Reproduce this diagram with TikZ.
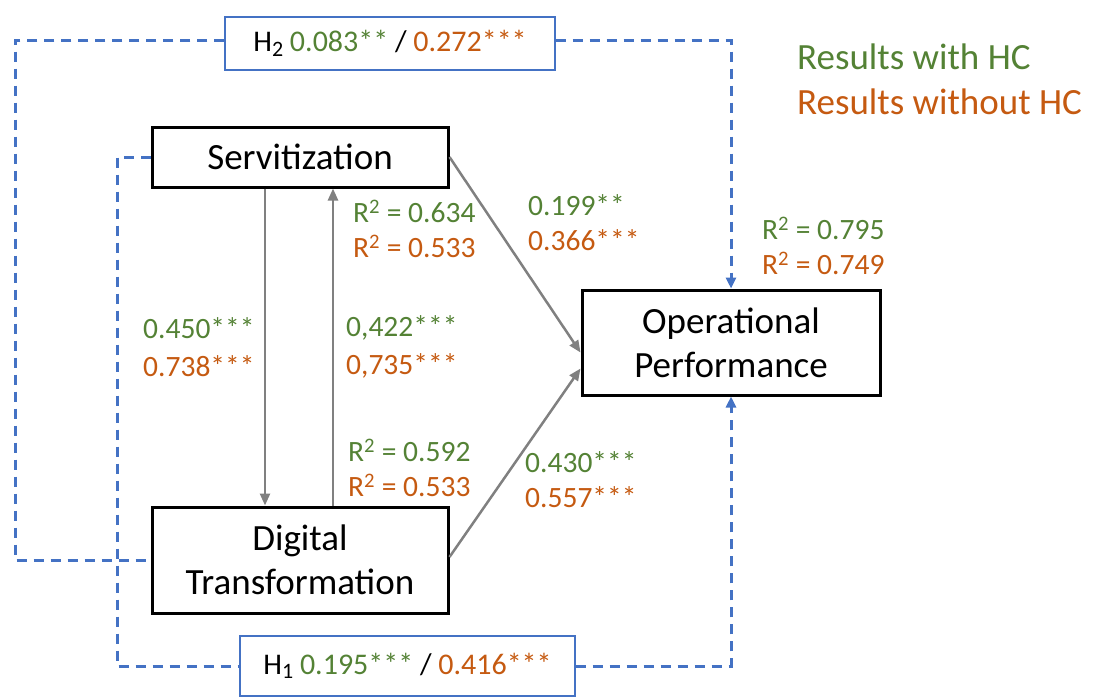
\documentclass[tikz,border=0pt]{standalone}
\usepackage{fontspec}
\setmainfont{Carlito}
\usetikzlibrary{arrows.meta}
\definecolor{hcgreen}{HTML}{548235}
\definecolor{hcorange}{HTML}{C55A11}
\definecolor{hcblue}{HTML}{4472C4}
\definecolor{pathgray}{HTML}{808080}
\newcommand{\grn}[1]{\textcolor{hcgreen}{#1}}
\newcommand{\org}[1]{\textcolor{hcorange}{#1}}
\newcommand{\Rsq}{R\textsuperscript{2}}
\newcommand{\hsub}[1]{\raisebox{-0.32ex}{\fontsize{22}{22}\selectfont #1}}
\tikzset{
  construct/.style={draw=black, line width=3pt, inner sep=0pt, align=center,
    font=\fontsize{37}{44}\selectfont},
  hypbox/.style={draw=hcblue, line width=1.4pt, inner sep=0pt,
    font=\fontsize{30}{36}\selectfont},
  hyppath/.style={draw=hcblue, line width=3pt, dash pattern=on 10pt off 7pt},
  hyparrow/.style={hyppath, -{Triangle[length=11pt,width=10pt]}},
  pathline/.style={draw=pathgray, line width=2.5pt, -{Triangle[length=12pt,width=10pt]}},
  coef/.style={anchor=west, inner sep=0pt, align=left,
    font=\fontsize{29.5}{35}\selectfont},
  coefwide/.style={coef, font=\fontsize{29.5}{38}\selectfont},
  legend/.style={anchor=west, inner sep=0pt, font=\fontsize{37}{44}\selectfont},
}
\begin{document}
\begin{tikzpicture}[x=1pt, y=-1pt]
\useasboundingbox (0,0) rectangle (1099,697);

% constructs
\node[construct, minimum width=296pt, minimum height=60pt] (S) at (300,157) {Servitization};
\node[construct, minimum width=296pt, minimum height=106pt] (DT) at (300,560) {Digital\\Transformation};
\node[construct, minimum width=298pt, minimum height=105pt] (OP) at (731,342.5) {Operational\\Performance};

% hypothesis boxes
\node[hypbox, minimum width=330pt, minimum height=53pt] (H2) at (390,43.5)
  {H\hsub{2} \grn{0.083**} / \org{0.272***}};
\node[hypbox, minimum width=335pt, minimum height=60pt] (H1) at (407.5,666)
  {H\hsub{1} \grn{0.195***} / \org{0.416***}};

% indirect (hypothesised) paths
\coordinate (outerL) at (15,40);
\coordinate (innerL) at (117,157);
\draw[hyppath] ([yshift=3.5pt]H2.west) -- (outerL) |- (DT.west);
\draw[hyparrow] ([yshift=3.5pt]H2.east) -| (OP.north);
\draw[hyppath] (S.west) -- (innerL) |- (H1.west);
\draw[hyparrow] (H1.east) -| (OP.south);

% direct paths
\draw[pathline] ([xshift=-35pt]S.south) -- ([xshift=-35pt]DT.north);
\draw[pathline] ([xshift=33pt]DT.north) -- ([xshift=33pt]S.south);
\draw[pathline] (S.east) -- ([yshift=-10pt]OP.west);
\draw[pathline] ([yshift=3pt]DT.east) -- ([yshift=-26pt]OP.west);

% legend
\node[legend, text=hcgreen] (legA) at (797,57) {Results with HC};
\node[legend, text=hcorange] (legB) at (797,102) {Results without HC};

% coefficients and R-squared values
\node[coef] (r2S) at (353,229) {\grn{\Rsq{} = 0.634}\\\org{\Rsq{} = 0.533}};
\node[coef] (bSO) at (528,223) {\grn{0.199**}\\\org{0.366***}};
\node[coef] (r2OP) at (762,246) {\grn{\Rsq{} = 0.795}\\\org{\Rsq{} = 0.749}};
\node[coefwide] (bSD) at (143,347) {\grn{0.450***}\\\org{0.738***}};
\node[coefwide] (bDS) at (346,347) {\grn{0,422***}\\\org{0,735***}};
\node[coef] (r2D) at (348,468) {\grn{\Rsq{} = 0.592}\\\org{\Rsq{} = 0.533}};
\node[coef] (bDO) at (525,480) {\grn{0.430***}\\\org{0.557***}};
\end{tikzpicture}
\end{document}
